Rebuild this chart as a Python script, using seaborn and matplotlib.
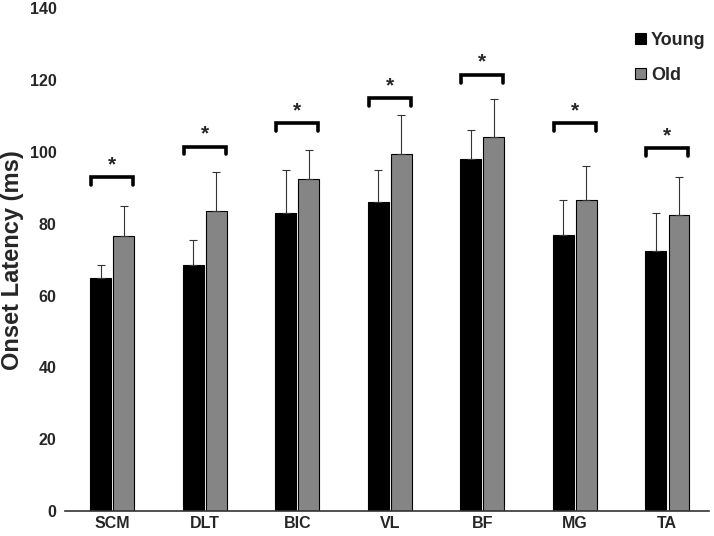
import matplotlib
matplotlib.use('Agg')
import matplotlib.pyplot as plt
import seaborn as sns
import pandas as pd
import numpy as np

muscles = ['SCM', 'DLT', 'BIC', 'VL', 'BF', 'MG', 'TA']
groups = ['Young', 'Old']
young_mean = [65, 68.5, 83, 86, 98, 77, 72.5]
old_mean = [76.5, 83.5, 92.5, 99.3, 104.2, 86.5, 82.5]
young_sd = [3.5, 7, 12, 9, 8, 9.5, 10.5]
old_sd = [8.5, 11, 8, 11, 10.5, 9.5, 10.5]
bracket_y = [93, 101.5, 108, 115, 121.5, 108, 101]

df = pd.DataFrame({
    'Muscle': muscles * 2,
    'Group': ['Young'] * len(muscles) + ['Old'] * len(muscles),
    'Latency': young_mean + old_mean,
})

sns.set_style('white')
plt.rcParams['font.family'] = ['Liberation Sans', 'DejaVu Sans']

fig = plt.figure(figsize=(7.14, 5.36), dpi=100)
ax = fig.add_axes([0.091, 0.0466, 0.902, 0.938])

sns.barplot(data=df, x='Muscle', y='Latency', hue='Group', order=muscles,
            hue_order=groups, palette={'Young': 'black', 'Old': '#858585'},
            edgecolor='black', linewidth=0.8, width=0.5, gap=0.1,
            errorbar=None, ax=ax)

# error bars (upper only) and significance brackets
for gi, (means, sds) in enumerate([(young_mean, young_sd), (old_mean, old_sd)]):
    cont = ax.containers[gi]
    xs = [p.get_x() + p.get_width() / 2 for p in cont]
    ax.errorbar(xs, means, yerr=[np.zeros(len(sds)), sds], fmt='none',
                ecolor='#333333', elinewidth=0.8, capsize=3, capthick=0.8)

for i, y in enumerate(bracket_y):
    py = ax.containers[0][i]
    po = ax.containers[1][i]
    x0 = py.get_x() + py.get_width() * 0.05
    x1 = po.get_x() + po.get_width() * 0.95
    ax.plot([x0, x0, x1, x1], [y - 2.2, y, y, y - 2.2], color='black', lw=2.6,
            solid_joinstyle='miter')
    ax.text((x0 + x1) / 2, y + 0.8, '*', ha='center', va='bottom',
            fontsize=15, fontweight='bold')

ax.set_ylim(0, 140)
ax.set_yticks(range(0, 141, 20))
ax.set_xlim(-0.51, 6.45)
ax.set_xlabel('')
ax.set_ylabel('Onset Latency (ms)', fontsize=17, fontweight='bold')
ax.yaxis.set_label_coords(-0.063, 0.5)
ax.tick_params(axis='both', length=0, labelsize=11.5)
ax.tick_params(axis='y', pad=6)
for lab in ax.get_xticklabels() + ax.get_yticklabels():
    lab.set_fontweight('bold')

for s in ['top', 'right', 'left']:
    ax.spines[s].set_visible(False)
ax.spines['bottom'].set_color('#333333')
ax.spines['bottom'].set_linewidth(1.2)

leg = ax.legend(loc='upper right', bbox_to_anchor=(1.02, 0.985), frameon=False,
                prop={'weight': 'bold', 'size': 13}, handlelength=0.6,
                handleheight=0.6, handletextpad=0.3, labelspacing=1.0)

plt.savefig('out.png', dpi=100)
plt.close()
